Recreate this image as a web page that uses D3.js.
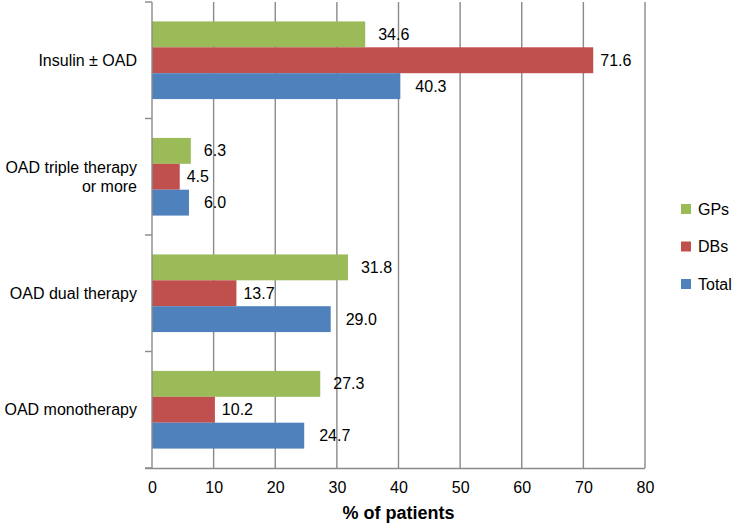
<!DOCTYPE html>
<html>
<head>
<meta charset="utf-8">
<script src="https://cdn.jsdelivr.net/npm/d3@7"></script>
<style>
  body { margin: 0; background: #fff; }
  text { font-family: Arial, "Liberation Sans", sans-serif; fill: #000; }
</style>
</head>
<body>
<div id="chart"></div>
<script>
// data
var categories = ["Insulin ± OAD", "OAD triple therapy\nor more", "OAD dual therapy", "OAD monotherapy"];
var seriesNames = ["GPs", "DBs", "Total"];
var gps = [34.6, 6.3, 31.8, 27.3];
var dbs = [71.6, 4.5, 13.7, 10.2];
var total = [40.3, 6.0, 29.0, 24.7];
var xTicks = [0, 10, 20, 30, 40, 50, 60, 70, 80];

var colors = { GPs: "#9BBB59", DBs: "#C0504D", Total: "#4F81BD" };
var labelNudge = { GPs: 13, DBs: 7, Total: 15 };

var W = 741, H = 528;
var margin = { top: 2, right: 96, bottom: 60, left: 152 };
var width = W - margin.left - margin.right,
    height = H - margin.top - margin.bottom;

var svg = d3.select("#chart").append("svg")
    .attr("width", W).attr("height", H)
    .append("g")
    .attr("transform", "translate(" + margin.left + "," + margin.top + ")");

var rows = categories.map(function (c, i) {
  return { cat: c, GPs: gps[i], DBs: dbs[i], Total: total[i] };
});

var x = d3.scaleLinear().domain([0, 80]).range([0, width]);
var y = d3.scaleBand().domain(categories).range([0, height]).padding(0);
var ySub = d3.scaleBand().domain(seriesNames).range([0, y.bandwidth()])
    .paddingInner(0).paddingOuter(0.75);

var grey = "#8a8a8a";

// gridlines
svg.append("g").selectAll("line")
  .data(xTicks.slice(1))
  .enter().append("line")
  .attr("x1", function (d) { return x(d); })
  .attr("x2", function (d) { return x(d); })
  .attr("y1", 0).attr("y2", height)
  .attr("stroke", grey).attr("stroke-width", 1.4);

// bars
var groups = svg.append("g").selectAll("g")
  .data(rows)
  .enter().append("g")
  .attr("transform", function (d) { return "translate(0," + y(d.cat) + ")"; });

groups.selectAll("rect")
  .data(function (d) { return seriesNames.map(function (s) { return { key: s, value: d[s] }; }); })
  .enter().append("rect")
  .attr("x", 0)
  .attr("y", function (d) { return ySub(d.key); })
  .attr("width", function (d) { return x(d.value); })
  .attr("height", ySub.bandwidth())
  .attr("fill", function (d) { return colors[d.key]; });

groups.selectAll("text.val")
  .data(function (d) { return seriesNames.map(function (s) { return { key: s, value: d[s] }; }); })
  .enter().append("text")
  .attr("class", "val")
  .attr("x", function (d) { return x(d.value) + labelNudge[d.key]; })
  .attr("y", function (d) { return ySub(d.key) + ySub.bandwidth() / 2; })
  .attr("dy", "0.35em")
  .style("font-size", "16px")
  .text(function (d) { return d.value.toFixed(1); });

// x axis
var xAxis = svg.append("g")
  .attr("transform", "translate(0," + height + ")")
  .call(d3.axisBottom(x).tickValues(xTicks).tickSize(0).tickPadding(14).tickSizeOuter(0));
xAxis.select(".domain").attr("stroke", grey).attr("stroke-width", 1.4)
  .attr("d", "M-7,0.5H" + width);
xAxis.selectAll("text").style("font-size", "16px").style("font-family", "Arial, 'Liberation Sans', sans-serif").attr("fill", "#000");

// y axis line and category separators
svg.append("line")
  .attr("x1", 0).attr("x2", 0).attr("y1", 0).attr("y2", height)
  .attr("stroke", grey).attr("stroke-width", 1.4);
var seps = categories.map(function (c) { return y(c); }).concat([height]);
svg.append("g").selectAll("line")
  .data(seps)
  .enter().append("line")
  .attr("x1", -7).attr("x2", 0)
  .attr("y1", function (d) { return d; }).attr("y2", function (d) { return d; })
  .attr("stroke", grey).attr("stroke-width", 1.4);

// category labels
var catLabels = svg.append("g").selectAll("text")
  .data(categories)
  .enter().append("text")
  .attr("text-anchor", "end")
  .style("font-size", "16px")
  .attr("transform", function (d) { return "translate(-15," + (y(d) + y.bandwidth() / 2) + ")"; });
catLabels.each(function (d) {
  var lines = d.split("\n");
  var t = d3.select(this);
  lines.forEach(function (l, i) {
    t.append("tspan")
      .attr("x", 0)
      .attr("y", (i - (lines.length - 1) / 2) * 19)
      .attr("dy", "0.35em")
      .text(l);
  });
});

// axis title
svg.append("text")
  .attr("x", width / 2)
  .attr("y", height + 51)
  .attr("text-anchor", "middle")
  .style("font-size", "18px")
  .style("font-weight", "bold")
  .text("% of patients");

// legend
var legend = svg.append("g").selectAll("g")
  .data(seriesNames)
  .enter().append("g")
  .attr("transform", function (d, i) { return "translate(" + (width + 36) + "," + (207 + i * 37.5) + ")"; });
legend.append("rect")
  .attr("x", 0).attr("y", -5).attr("width", 10).attr("height", 10)
  .attr("fill", function (d) { return colors[d]; });
legend.append("text")
  .attr("x", 17).attr("y", 0).attr("dy", "0.35em")
  .style("font-size", "16px")
  .text(function (d) { return d; });
</script>
</body>
</html>
